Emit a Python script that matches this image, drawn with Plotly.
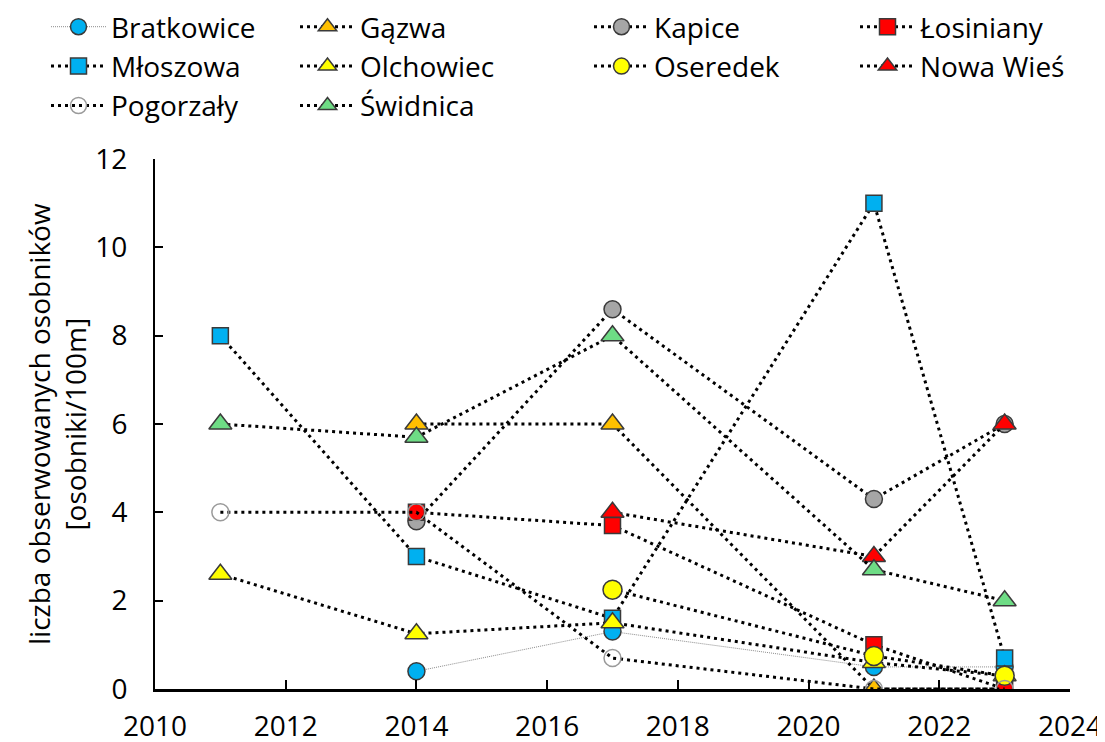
import plotly.graph_objects as go

# ── Data ──────────────────────────────────────────────────────────────────────
years = [2011, 2014, 2017, 2021, 2023]

bratkowice = [None, 0.4, 1.3, 0.5, 0.5]
gazwa = [None, 6.0, 6.0, 0.0, 0.0]
kapice = [None, 3.8, 8.6, 4.3, 6.0]
losiniany = [None, 4.0, 3.7, 1.0, 0.0]
mloszowa = [8.0, 3.0, 1.6, 11.0, 0.7]
olchowiec = [2.6, 1.25, 1.5, 0.6, 0.3]
oseredek = [None, None, 2.25, 0.75, 0.3]
nowa_wies = [None, None, 4.0, 3.0, 6.0]
pogorzaly = [4.0, 4.0, 0.7, 0.0, 0.0]
swidnica = [6.0, 5.7, 8.0, 2.7, 2.0]

x_ticks = [2010, 2012, 2014, 2016, 2018, 2020, 2022, 2024]
y_ticks = [0, 2, 4, 6, 8, 10, 12]

FONT = "Open Sans"
FS = 28
EDGE = "#3a3a3a"
DOT = dict(color="black", width=3, dash="3px,4px")

# (name, values, symbol, fill, size, legend, line)
series = [
    ("Bratkowice", bratkowice, "circle", "#00B0F0", 17, "legend",
     dict(color="#8c8c8c", width=1, dash="1px,1px")),
    ("Gązwa", gazwa, "triangle-up", "#FFC000", 20, "legend2", DOT),
    ("Kapice", kapice, "circle", "#A6A6A6", 17, "legend3", DOT),
    ("Łosiniany", losiniany, "square", "#FF0000", 16, "legend4", DOT),
    ("Młoszowa", mloszowa, "square", "#00B0F0", 16, "legend", DOT),
    ("Olchowiec", olchowiec, "triangle-up", "#FFFF00", 20, "legend2", DOT),
    ("Oseredek", oseredek, "circle", "#FFFF00", 19, "legend3", DOT),
    ("Nowa Wieś", nowa_wies, "triangle-up", "#FF0000", 20, "legend4", DOT),
    ("Pogorzały", pogorzaly, "circle", "rgba(0,0,0,0)", 17, "legend", DOT),
    ("Świdnica", swidnica, "triangle-up", "#6EDC85", 20, "legend2", DOT),
]

fig = go.Figure()
for name, vals, sym, fill, size, leg, line in series:
    edge = "#9a9a9a" if name == "Pogorzały" else EDGE
    fig.add_trace(go.Scatter(
        x=years, y=vals,
        mode="lines+markers",
        name=name,
        legend=leg,
        connectgaps=False,
        line=line,
        marker=dict(symbol=sym, size=size, color=fill,
                    line=dict(color=edge, width=1.5)),
    ))

# ── Layout ────────────────────────────────────────────────────────────────────
# the page body has an 8px margin, so the figure is drawn 8px in from the corner
OFF = 8
W, H = 1105 - OFF, 742 - OFF
L, T = 155 - OFF, 159 - OFF
R, B = W - (1070 - OFF), H - (689 - OFF)
pw = W - L - R
ph = H - T - B


def px_x(px):
    return (px - OFF - L) / pw


def px_y(py):
    return (H - B - (py - OFF)) / ph


leg_common = dict(
    orientation="v",
    xanchor="left", yanchor="top",
    font=dict(family=FONT, size=FS, color="black"),
    bgcolor="rgba(0,0,0,0)",
    tracegroupgap=0,
    itemwidth=55,
)

LEG_TOP = 2
fig.update_layout(
    width=W, height=H,
    margin=dict(l=L, r=R, t=T, b=B, autoexpand=False),
    plot_bgcolor="white",
    paper_bgcolor="white",
    font=dict(family=FONT, size=FS, color="black"),
    legend=dict(**leg_common, x=px_x(46), y=px_y(LEG_TOP)),
    legend2=dict(**leg_common, x=px_x(295), y=px_y(LEG_TOP)),
    legend3=dict(**leg_common, x=px_x(589), y=px_y(LEG_TOP)),
    legend4=dict(**leg_common, x=px_x(855), y=px_y(LEG_TOP)),
    xaxis=dict(
        range=[2010, 2024],
        tickvals=x_ticks,
        ticktext=[str(v) for v in x_ticks],
        showgrid=False, zeroline=False,
        showline=True, linecolor="black", linewidth=3,
        ticks="inside", ticklen=9, tickwidth=2, tickcolor="black",
        tickfont=dict(family=FONT, size=FS, color="black"),
        ticklabelstandoff=10,
    ),
    yaxis=dict(
        range=[0, 12],
        tickvals=y_ticks,
        showgrid=False, zeroline=False,
        showline=True, linecolor="black", linewidth=2,
        ticks="inside", ticklen=8, tickwidth=2, tickcolor="black",
        tickfont=dict(family=FONT, size=FS, color="black"),
        ticklabelstandoff=20,
    ),
    annotations=[dict(
        text="liczba obserwowanych osobników<br>[osobniki/100m]",
        xref="paper", yref="paper",
        x=px_x(57), y=0.5,
        xanchor="center", yanchor="middle",
        textangle=-90, showarrow=False,
        font=dict(family=FONT, size=FS, color="black"),
    )],
)

fig.write_html("out.html")
